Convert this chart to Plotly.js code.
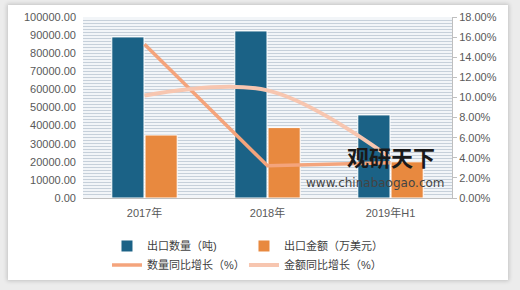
<!DOCTYPE html>
<html>
<head>
<meta charset="utf-8">
<script src="https://cdn.plot.ly/plotly-3.0.1.min.js"></script>
<style>
html,body{margin:0;padding:0;background:#ececec;}
#frame{position:absolute;left:8px;top:5px;width:500px;height:275px;background:#ffffff;
       box-shadow:0 0 4px 1px rgba(0,0,0,0.18);}
#chart{position:absolute;left:0;top:0;width:520px;height:290px;}
</style>
</head>
<body>
<div id="frame"></div>
<div id="chart"></div>
<script>
const categories = ['2017年', '2018年', '2019年H1'];
const exportQty = [89000, 92300, 45900];
const exportValue = [34800, 38900, 20000];
const qtyGrowth = [15.3, 3.2, 3.5];
const valueGrowth = [10.2, 10.7, 4.0];

const cjk = '"Liberation Sans", "Noto Sans CJK SC", sans-serif';

const traces = [
  {type:'bar', name:'出口数量（吨)', x:categories, y:exportQty,
   marker:{color:'#1b6286', line:{color:'#ffffff', width:1}}},
  {type:'bar', name:'出口金额（万美元）', x:categories, y:exportValue,
   marker:{color:'#e8893f', line:{color:'#ffffff', width:1}}},
  {type:'scatter', mode:'lines', name:'数量同比增长（%）', x:categories, y:qtyGrowth, yaxis:'y2',
   line:{color:'#f4a47c', width:3.5}},
  {type:'scatter', mode:'lines', name:'金额同比增长（%）', x:categories, y:valueGrowth, yaxis:'y2',
   line:{color:'#f7c6b0', width:4, shape:'spline', smoothing:1}}
];

const layout = {
  width:520, height:290,
  margin:{l:83, r:68, t:17, b:92, pad:0, autoexpand:false},
  paper_bgcolor:'rgba(0,0,0,0)',
  plot_bgcolor:'#f2f5f8',
  font:{family:cjk, size:11, color:'#595959'},
  barmode:'group', bargap:0.46, bargroupgap:0.03,
  showlegend:true,
  legend:{orientation:'h', x:0.065, y:-0.185, xanchor:'left', yanchor:'top',
          entrywidth:92, bgcolor:'#ffffff', font:{size:11, color:'#404040'},
          itemwidth:30, tracegroupgap:0},
  xaxis:{type:'category', showline:true, linecolor:'#bfbfbf', linewidth:1,
         ticks:'', tickfont:{size:11, color:'#595959'}, ticklabelstandoff:5, fixedrange:true},
  yaxis:{range:[0,100000], tickmode:'linear', tick0:0, dtick:10000, tickformat:'.2f',
         showgrid:true, gridcolor:'#c6d0da', gridwidth:1,
         zeroline:false, showline:false, ticks:'',
         tickfont:{size:11}, ticklabelstandoff:6,
         minor:{tick0:0, dtick:10000/6, showgrid:true, gridcolor:'#c6d0da', gridwidth:1}},
  yaxis2:{overlaying:'y', side:'right', range:[0,18], tickmode:'linear', tick0:0, dtick:2,
          tickformat:'.2f', ticksuffix:'%',
          showgrid:false, zeroline:false, showline:true, linecolor:'#bfbfbf',
          ticks:'outside', ticklen:4, tickcolor:'#bfbfbf', tickfont:{size:11}},
  annotations:[
    {xref:'paper', yref:'paper', x:0.71, y:0.13, xanchor:'left', text:'<b>观研天下</b>', showarrow:false,
     font:{family:'"Noto Sans CJK SC", sans-serif', size:22, color:'#1a1a1a'}},
    {xref:'paper', yref:'paper', x:0.60, y:0.033, xanchor:'left', text:'www.chinabaogao.com', showarrow:false,
     font:{family:'"DejaVu Sans", sans-serif', size:12, color:'#444444'}}
  ]
};

Plotly.newPlot('chart', traces, layout, {displayModeBar:false, staticPlot:true});
</script>
</body>
</html>
